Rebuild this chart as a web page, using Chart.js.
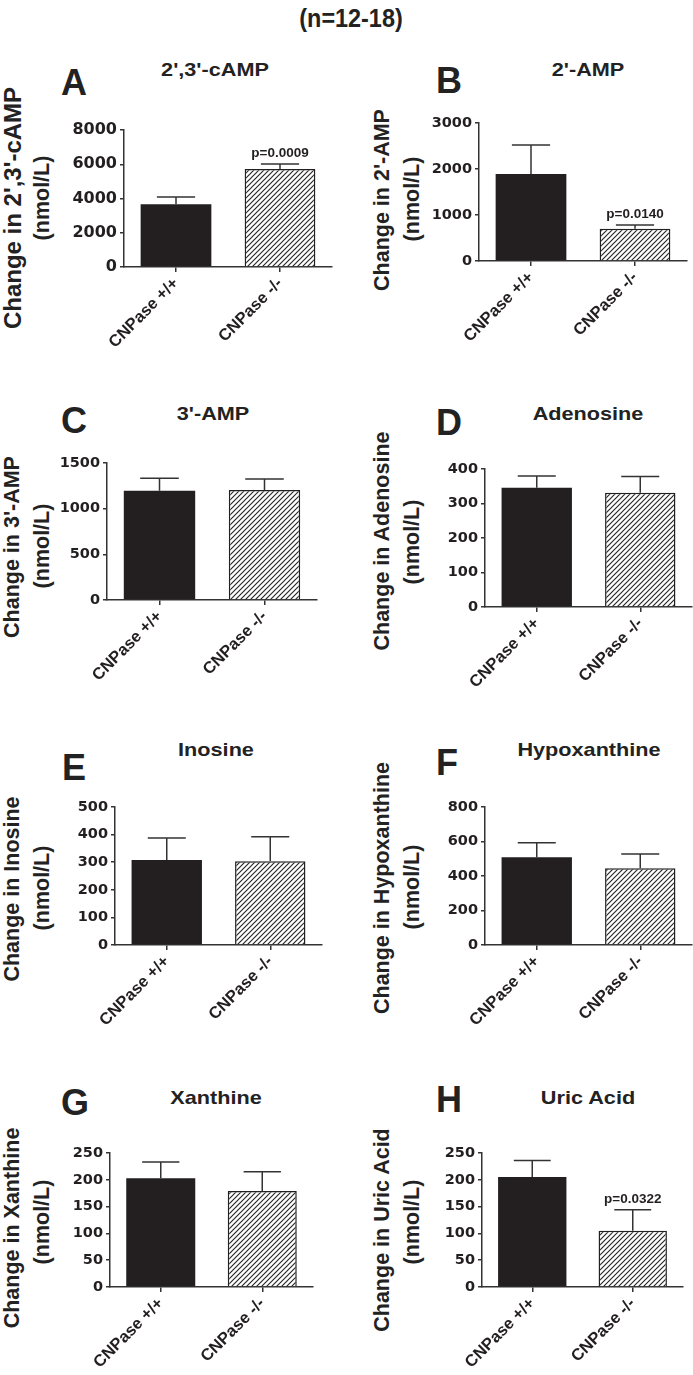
<!DOCTYPE html>
<html><head><meta charset="utf-8">
<script src="https://cdn.jsdelivr.net/npm/chart.js@4.4.1/dist/chart.umd.min.js"></script>
<style>
html,body{margin:0;padding:0;background:#fff;}
body{width:693px;height:1375px;position:relative;overflow:hidden;font-family:'Liberation Sans',Arial,sans-serif;color:#222;}
.t{position:absolute;white-space:nowrap;font-weight:bold;line-height:1;}
canvas{position:absolute;}
</style></head><body>
<script>
// ---------- data ----------
const mainTitle = '(n=12-18)';
const categories = ['CNPase +/+', 'CNPase -/-'];
const panelLetters = ['A','B','C','D','E','F','G','H'];
const panelTitles = ["2',3'-cAMP", "2'-AMP", "3'-AMP", 'Adenosine', 'Inosine', 'Hypoxanthine', 'Xanthine', 'Uric Acid'];
const yAxisTitles = ["Change in 2',3'-cAMP", "Change in 2'-AMP", "Change in 3'-AMP", 'Change in Adenosine', 'Change in Inosine', 'Change in Hypoxanthine', 'Change in Xanthine', 'Change in Uric Acid'];
const yAxisUnit = '(nmol/L)';
const wildTypeMean = [3660, 1890, 1195, 346, 308, 508, 203, 205];
const wildTypeSEM  = [430, 630, 137, 34, 80, 85, 30, 31];
const knockoutMean = [5720, 700, 1205, 331, 303, 445, 179, 105];
const knockoutSEM  = [290, 80, 120, 47, 89, 82, 36, 39];
const pValueLabels = ['p=0.0009', 'p=0.0140', '', '', '', '', '', 'p=0.0322'];
const yTickValues = [
  [0, 2000, 4000, 6000, 8000],
  [0, 1000, 2000, 3000],
  [0, 500, 1000, 1500],
  [0, 100, 200, 300, 400],
  [0, 100, 200, 300, 400, 500],
  [0, 200, 400, 600, 800],
  [0, 50, 100, 150, 200, 250],
  [0, 50, 100, 150, 200, 250]
];

// ---------- layout (page pixels) ----------
const layout = [
 {L:124,R:332,T:130,B:267, tx:215,ty:69,  lx:62, ly:70,  y1:13, y2:43, yc:208, uc:198, tick:16, yf:24},
 {L:479,R:687,T:123,B:261, tx:588,ty:69,  lx:437,ly:68,  y1:383,y2:413,yc:200, uc:199, tick:14.5, yf:21.5},
 {L:107,R:317,T:463,B:600, tx:213,ty:413, lx:62, ly:408, y1:13, y2:43, yc:547, uc:546, tick:14.5, yf:21.5},
 {L:485,R:692,T:469,B:607, tx:588,ty:413, lx:437,ly:410, y1:383,y2:413,yc:541, uc:542, tick:14.5, yf:21.5},
 {L:115,R:322,T:807,B:945, tx:216,ty:749, lx:63, ly:755, y1:13, y2:43, yc:889, uc:888, tick:14.5, yf:21.5},
 {L:485,R:692,T:807,B:945, tx:589,ty:749, lx:437,ly:750, y1:383,y2:413,yc:888, uc:887, tick:14.5, yf:21.5},
 {L:110,R:313,T:1153,B:1287,tx:216,ty:1097,lx:62, ly:1090,y1:13, y2:43, yc:1228,uc:1222,tick:14.5, yf:21.5},
 {L:482,R:683,T:1153,B:1287,tx:588,ty:1097,lx:437,ly:1087,y1:383,y2:413,yc:1230,uc:1222,tick:14.5, yf:21.5}
];
const YW = 60, PT = 30, XH = 100, PR = 3;
const INK = '#231f20', AXIS = '#333';

function addText(txt, x, y, size, transform) {
  const d = document.createElement('div');
  d.className = 't';
  d.textContent = txt;
  d.style.left = x + 'px';
  d.style.top = y + 'px';
  d.style.fontSize = size + 'px';
  if (transform) d.style.transform = transform;
  document.body.appendChild(d);
  return d;
}

addText(mainTitle, 351, 18, 26, 'translate(-50%,-50%) scaleX(0.9)');

const TILE = 5;
const hatchTile = document.createElement('canvas');
hatchTile.width = TILE; hatchTile.height = TILE;
(function(){
  const g = hatchTile.getContext('2d');
  g.fillStyle = '#fff'; g.fillRect(0,0,TILE,TILE);
  g.strokeStyle = '#262626'; g.lineWidth = 1.15;
  g.beginPath();
  g.moveTo(0,TILE); g.lineTo(TILE,0);
  g.moveTo(-1,1); g.lineTo(1,-1);
  g.moveTo(TILE-1,TILE+1); g.lineTo(TILE+1,TILE-1);
  g.stroke();
})();

const errorBarPlugin = {
  id: 'errbars',
  afterDatasetsDraw(chart) {
    const ctx = chart.ctx, ys = chart.scales.y;
    const ds = chart.data.datasets[0];
    chart.getDatasetMeta(0).data.forEach((bar, j) => {
      const top = ys.getPixelForValue(ds.data[j] + ds.errors[j]);
      const half = bar.width * 0.27;
      ctx.save();
      ctx.strokeStyle = AXIS; ctx.lineWidth = 1.5;
      ctx.beginPath();
      ctx.moveTo(bar.x, bar.y); ctx.lineTo(bar.x, top);
      ctx.moveTo(bar.x - half, top); ctx.lineTo(bar.x + half, top);
      ctx.stroke();
      const lbl = ds.pLabels[j];
      if (lbl) {
        ctx.fillStyle = INK;
        ctx.font = 'bold 13.5px "Liberation Sans"';
        ctx.textAlign = 'center'; ctx.textBaseline = 'alphabetic';
        ctx.fillText(lbl, bar.x, top - 7);
      }
      ctx.restore();
    });
  }
};

layout.forEach((p, i) => {
  addText(panelLetters[i], p.lx - 1, p.ly - 5, 36);
  addText(panelTitles[i], p.tx, p.ty, 19, 'translate(-50%,-50%) scaleX(1.14)');
  addText(yAxisTitles[i], p.y1, p.yc, p.yf, 'translate(-50%,-50%) rotate(-90deg)');
  addText(yAxisUnit, p.y2, p.uc, 21.5, 'translate(-50%,-50%) rotate(-90deg)');

  const cw = YW + (p.R - p.L) + PR, ch = PT + (p.B - p.T) + XH;
  const cv = document.createElement('canvas');
  cv.width = cw; cv.height = ch;
  cv.style.left = (p.L - YW) + 'px'; cv.style.top = (p.T - PT) + 'px';
  cv.style.width = cw + 'px'; cv.style.height = ch + 'px';
  document.body.appendChild(cv);
  const ctx = cv.getContext('2d');
  const pattern = ctx.createPattern(hatchTile, 'repeat');
  const ticks = yTickValues[i];

  new Chart(ctx, {
    type: 'bar',
    data: {
      labels: categories,
      datasets: [{
        data: [wildTypeMean[i], knockoutMean[i]],
        errors: [wildTypeSEM[i], knockoutSEM[i]],
        pLabels: ['', pValueLabels[i]],
        backgroundColor: [INK, pattern],
        borderColor: INK,
        borderWidth: [0, 1.5],
        barPercentage: 0.68,
        categoryPercentage: 1.0
      }]
    },
    options: {
      responsive: false, animation: false, devicePixelRatio: 1,
      layout: { padding: { top: PT, right: PR, left: 0, bottom: 0 } },
      plugins: { legend: { display: false }, tooltip: { enabled: false }, title: { display: false } },
      scales: {
        x: {
          offset: true,
          grid: { display: true, drawOnChartArea: false, drawTicks: true, tickLength: 5, color: AXIS, lineWidth: 1.5, offset: false },
          border: { display: true, color: AXIS, width: 1.5 },
          ticks: { color: INK, font: { family: 'Liberation Sans', weight: 'bold', size: 16.5 }, minRotation: 45, maxRotation: 45, padding: 2, autoSkip: false },
          afterFit(s) { s.height = XH; s.paddingLeft = 0; s.paddingRight = 0; }
        },
        y: {
          min: 0, max: ticks[ticks.length - 1],
          grid: { display: true, drawOnChartArea: false, drawTicks: true, tickLength: 4, color: AXIS, lineWidth: 1.5 },
          border: { display: true, color: AXIS, width: 1.5 },
          ticks: { color: INK, font: { family: 'DejaVu Sans', weight: 'bold', size: p.tick }, padding: 3, callback: v => String(v) },
          afterBuildTicks(s) { s.ticks = ticks.map(v => ({ value: v })); },
          afterFit(s) { s.width = YW; s.paddingTop = 0; s.paddingBottom = 0; }
        }
      }
    },
    plugins: [errorBarPlugin]
  });
});
</script>
</body></html>
